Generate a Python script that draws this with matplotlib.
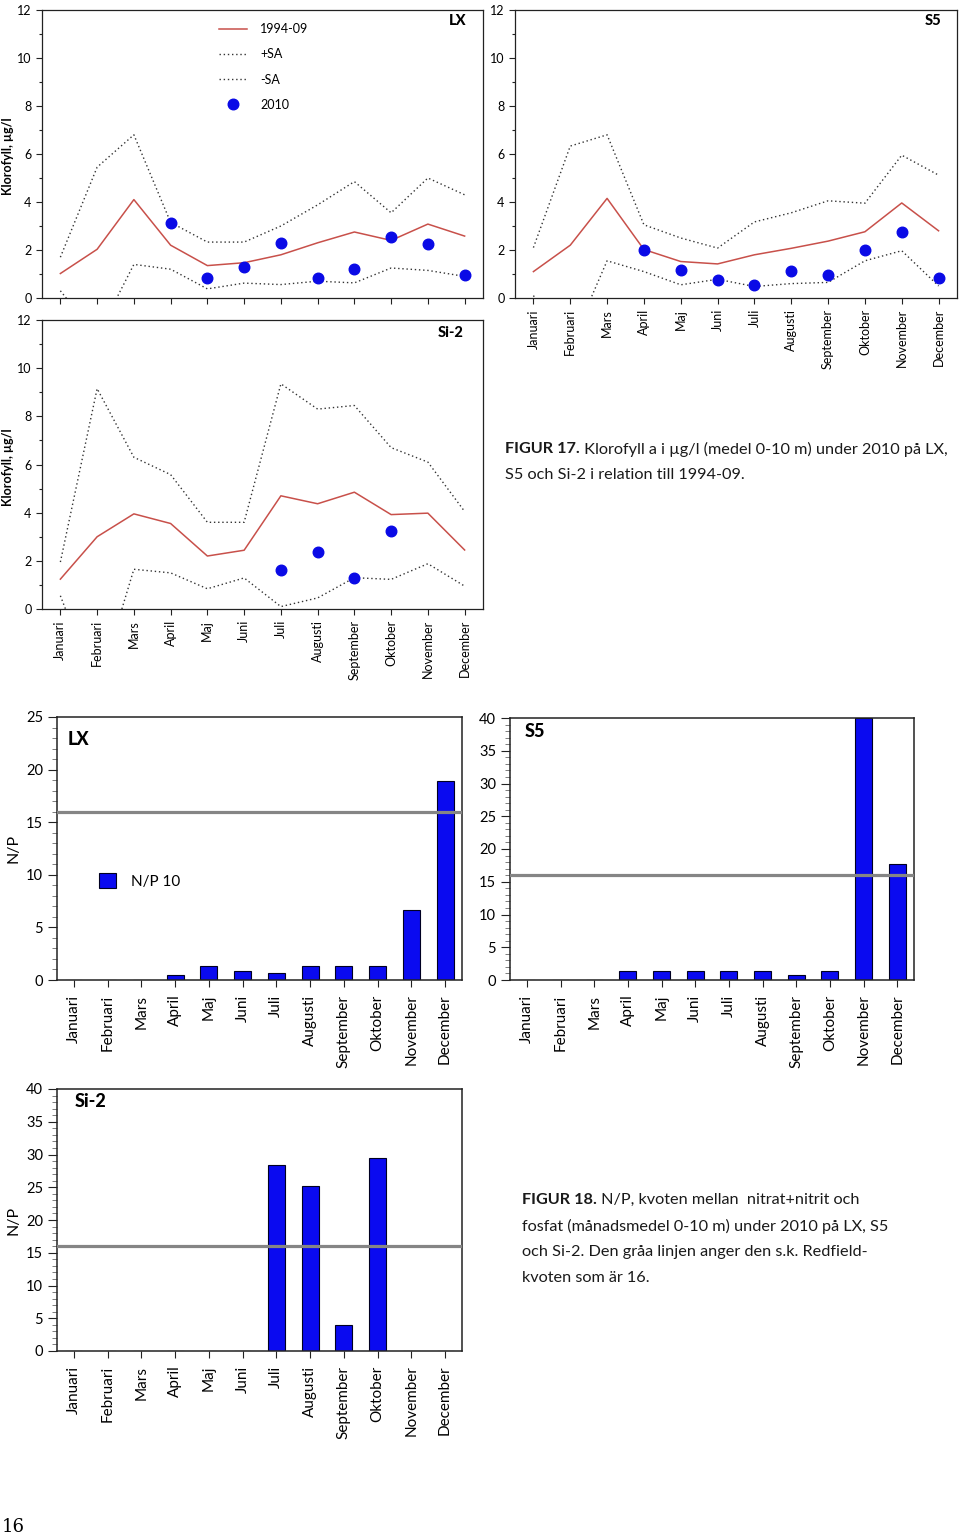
import matplotlib
matplotlib.use("Agg")
import matplotlib.pyplot as plt
from matplotlib.ticker import MultipleLocator
import numpy as np

# ---------------- data ----------------
months = ["Januari", "Februari", "Mars", "April", "Maj", "Juni", "Juli",
          "Augusti", "September", "Oktober", "November", "December"]

# Klorofyll (µg/l)
lx_mean = [1.02, 2.03, 4.1, 2.2, 1.35, 1.47, 1.8, 2.3, 2.75, 2.4, 3.08, 2.58]
lx_plus = [1.7, 5.45, 6.8, 3.15, 2.33, 2.33, 3.0, 3.88, 4.85, 3.55, 5.0, 4.3]
lx_minus = [0.3, -1.6, 1.4, 1.2, 0.38, 0.62, 0.56, 0.7, 0.63, 1.25, 1.15, 0.9]
lx_2010 = [None, None, None, 3.13, 0.85, 1.3, 2.28, 0.82, 1.2, 2.55, 2.25, 0.95]

s5_mean = [1.1, 2.2, 4.15, 2.02, 1.52, 1.42, 1.8, 2.07, 2.37, 2.76, 3.96, 2.8]
s5_plus = [2.1, 6.33, 6.8, 3.05, 2.5, 2.08, 3.17, 3.55, 4.05, 3.95, 5.95, 5.12]
s5_minus = [0.1, -2.0, 1.55, 1.1, 0.55, 0.78, 0.48, 0.6, 0.65, 1.55, 1.97, 0.5]
s5_2010 = [None, None, None, 2.0, 1.18, 0.73, 0.54, 1.13, 0.97, 2.0, 2.77, 0.84]

si2_mean = [1.24, 3.0, 3.95, 3.55, 2.2, 2.44, 4.7, 4.37, 4.85, 3.92, 3.98, 2.45]
si2_plus = [1.95, 9.15, 6.3, 5.58, 3.6, 3.6, 9.35, 8.3, 8.45, 6.7, 6.1, 4.05]
si2_minus = [0.55, -3.4, 1.65, 1.5, 0.84, 1.29, 0.1, 0.46, 1.3, 1.23, 1.88, 0.95]
si2_2010 = [None, None, None, None, None, None, 1.64, 2.35, 1.3, 3.23, None, None]

# N/P
lx_np = [0, 0, 0, 0.5, 1.35, 0.9, 0.65, 1.35, 1.35, 1.35, 6.7, 18.9]
s5_np = [0, 0, 0, 1.35, 1.35, 1.35, 1.35, 1.35, 0.8, 1.35, 40.0, 17.7]
si2_np = [0, 0, 0, 0, 0, 0, 28.4, 25.2, 3.9, 29.4, 0, 0]
redfield = 16

chl_labels = ["1994-09", "+SA", "-SA", "2010"]
np_label = "N/P 10"

cap17_bold = "FIGUR 17."
cap17 = [" Klorofyll a i µg/l (medel 0-10 m) under 2010 på LX,",
         "S5 och Si-2 i relation till 1994-09."]
cap18_bold = "FIGUR 18."
cap18 = [" N/P, kvoten mellan  nitrat+nitrit och",
         "fosfat (månadsmedel 0-10 m) under 2010 på LX, S5",
         "och Si-2. Den gråa linjen anger den s.k. Redfield-",
         "kvoten som är 16."]

# ---------------- figure ----------------
plt.rcParams['font.family'] = ['Lato', 'DejaVu Sans']
W, H = 960, 1536
fig = plt.figure(figsize=(9.6, 15.36), dpi=100)
fig.patch.set_facecolor('white')


def rect(l, t, r, b):
    return [l / W, 1 - b / H, (r - l) / W, (b - t) / H]


def style_frame(ax, lw=0.9):
    for s in ax.spines.values():
        s.set_color('#222222')
        s.set_linewidth(lw)


def chl_axes(box, mean, plus, minus, obs, name, npos, show_xlabels, legend=False):
    ax = fig.add_axes(rect(*box))
    x = np.arange(len(months))
    ax.plot(x, mean, color='#c8504a', lw=1.1, label=chl_labels[0])
    ax.plot(x, plus, color='#333333', lw=1.0, ls=(0, (1, 2)), label=chl_labels[1])
    ax.plot(x, minus, color='#333333', lw=1.0, ls=(0, (1, 2)), label=chl_labels[2])
    ax.plot(x, np.array(obs, dtype=float), 'o', color='#0a0ae6', ms=7.6,
            label=chl_labels[3], ls='none')
    ax.set_xlim(-0.5, 11.5)
    ax.set_ylim(0, 12)
    ax.yaxis.set_major_locator(MultipleLocator(2))
    ax.yaxis.set_minor_locator(MultipleLocator(1))
    ax.set_xticks(x)
    if show_xlabels:
        ax.set_xticklabels(months, rotation=90, fontsize=9)
    else:
        ax.set_xticklabels([])
    ax.tick_params(axis='x', direction='out', length=4.5, width=0.8, pad=3.5,
                   color='#222222')
    ax.tick_params(axis='y', which='major', direction='out', length=4.5,
                   width=0.8, pad=3, labelsize=9, color='#222222')
    ax.tick_params(axis='y', which='minor', direction='out', length=2.5,
                   width=0.8, color='#222222')
    style_frame(ax)
    ax.text(npos[0], npos[1], name, transform=ax.transAxes, ha='right', va='top',
            fontweight='black', fontsize=10.5)
    if legend:
        ax.legend(loc='upper left', bbox_to_anchor=(219 / W, 1 - 23 / H),
                  bbox_transform=fig.transFigure, frameon=False, fontsize=9,
                  handlelength=2.2, handletextpad=1.1, labelspacing=1.06,
                  borderpad=0, borderaxespad=0)
    return ax


def np_axes(box, vals, ymax, name, npos, legend=False):
    ax = fig.add_axes(rect(*box))
    x = np.arange(len(months))
    ax.bar(x, vals, width=0.5, color='#0a0af0', edgecolor='#000022', lw=0.8,
           label=np_label, zorder=2)
    ax.axhline(redfield, color='#858585', lw=2.3, zorder=3)
    ax.set_xlim(-0.5, 11.5)
    ax.set_ylim(0, ymax)
    ax.yaxis.set_major_locator(MultipleLocator(5))
    ax.yaxis.set_minor_locator(MultipleLocator(1))
    ax.set_xticks(x)
    ax.set_xticklabels(months, rotation=90, fontsize=11)
    ax.tick_params(axis='x', direction='out', length=5, width=0.8, pad=5.5,
                   color='#222222')
    ax.tick_params(axis='y', which='major', direction='out', length=6.5,
                   width=0.8, pad=3.5, labelsize=10.5, color='#222222')
    ax.tick_params(axis='y', which='minor', direction='out', length=3.5,
                   width=0.6, color='#666666')
    style_frame(ax, 1.1)
    ax.text(npos[0], npos[1], name, transform=ax.transAxes, ha='left', va='top',
            fontweight='black', fontsize=13)
    if legend:
        ax.legend(loc='upper left', bbox_to_anchor=(99 / W, 1 - 873 / H),
                  bbox_transform=fig.transFigure, frameon=False, fontsize=11,
                  handlelength=1.1, handleheight=1.1, handletextpad=1.0,
                  borderpad=0, borderaxespad=0)
    return ax


# Klorofyll panels
chl_axes((42, 10, 483, 298), lx_mean, lx_plus, lx_minus, lx_2010, "LX",
         (0.962, 0.985), False, legend=True)
chl_axes((515, 10, 957, 298), s5_mean, s5_plus, s5_minus, s5_2010, "S5",
         (0.964, 0.985), True)
chl_axes((42, 320, 483, 609), si2_mean, si2_plus, si2_minus, si2_2010, "Si-2",
         (0.957, 0.978), True)

fig.text(8 / W, 1 - 156 / H, "Klorofyll, µg/l", rotation=90, ha='center',
         va='center', fontweight='bold', fontsize=9)
fig.text(8 / W, 1 - 467 / H, "Klorofyll, µg/l", rotation=90, ha='center',
         va='center', fontweight='bold', fontsize=9)

# N/P panels
np_axes((57, 717, 462, 980), lx_np, 25, "LX", (0.027, 0.945), legend=True)
np_axes((510, 718, 914, 980), s5_np, 40, "S5", (0.037, 0.982))
np_axes((57, 1089, 462, 1351), si2_np, 40, "Si-2", (0.044, 0.985))

fig.text(13 / W, 1 - 848 / H, "N/P", rotation=90, ha='center', va='center',
         fontsize=11.5)
fig.text(13 / W, 1 - 1220 / H, "N/P", rotation=90, ha='center', va='center',
         fontsize=11.5)

# captions
renderer = fig.canvas.get_renderer()


def caption(x, y0, dy, bold, lines, size):
    t = fig.text(x / W, 1 - y0 / H, bold, fontweight='bold', fontsize=size,
                 va='center', color='#1a1a1a')
    bb = t.get_window_extent(renderer)
    fig.text(bb.x1 / W, 1 - y0 / H, lines[0], fontsize=size, va='center',
             color='#1a1a1a', fontweight='normal')
    for i, line in enumerate(lines[1:]):
        fig.text(x / W, 1 - (y0 + dy * (i + 1)) / H, line, fontsize=size,
                 va='center', color='#1a1a1a', fontweight='normal')


caption(505, 449, 26, cap17_bold, cap17, 11.7)
caption(522, 1200, 26, cap18_bold, cap18, 11.7)

fig.text(2 / W, 1 - 1527 / H, "16", family=['DejaVu Serif'], fontsize=13,
         va='center', ha='left')

fig.savefig("out.png", dpi=100, facecolor='white')
